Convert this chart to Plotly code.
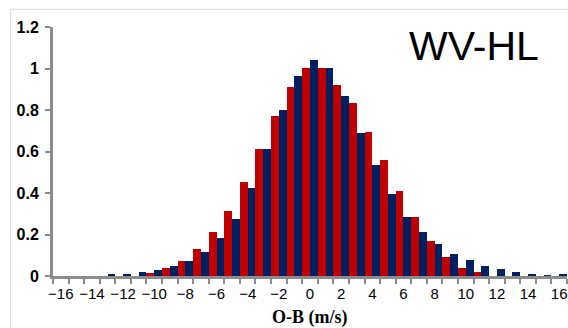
import plotly.graph_objects as go

categories = list(range(-16, 17))
red_values = [0, 0, 0, 0, 0, 0, 0.014, 0.037, 0.073, 0.128, 0.210, 0.313, 0.451, 0.614,
              0.773, 0.911, 1.001, 1.001, 0.922, 0.836, 0.693, 0.558, 0.409, 0.285, 0.167,
              0.091, 0.040, 0.019, 0, 0, 0, 0, 0]
navy_values = [0, 0, 0, 0.011, 0.011, 0.019, 0.030, 0.047, 0.073, 0.115, 0.184, 0.276, 0.425,
               0.610, 0.799, 0.966, 1.041, 1.001, 0.868, 0.690, 0.534, 0.395, 0.282, 0.210,
               0.152, 0.105, 0.076, 0.048, 0.033, 0.018, 0.011, 0.004, 0.011]
x_tick_values = list(range(-16, 17, 2))
y_tick_values = [0, 0.2, 0.4, 0.6, 0.8, 1.0, 1.2]
y_tick_labels = ["0", "0.2", "0.4", "0.6", "0.8", "1", "1.2"]

RED = "#C00000"
NAVY = "#002060"
AXIS = "#8C8C8C"

fig = go.Figure()
fig.add_trace(go.Bar(x=categories, y=red_values, marker=dict(color=RED, line=dict(width=0)), showlegend=False))
fig.add_trace(go.Bar(x=categories, y=navy_values, marker=dict(color=NAVY, line=dict(width=0)), showlegend=False))

fig.update_layout(
    width=568, height=328,
    margin=dict(l=53, r=1, t=27, b=52),
    paper_bgcolor="white", plot_bgcolor="white",
    barmode="group", bargap=0, bargroupgap=0,
    font=dict(family="Liberation Sans, Arial, sans-serif", color="black"),
)
fig.update_xaxes(
    range=[-16.5, 16.5], tickvals=x_tick_values, ticks="outside", ticklen=0,
    showline=True, linecolor=AXIS, linewidth=3, showgrid=False, zeroline=False,
    tickfont=dict(size=15, color="black"), ticklabelstandoff=2,
    minor=dict(tick0=-16.5, dtick=1, ticks="outside", ticklen=5, tickwidth=2, tickcolor=AXIS, showgrid=False),
)
fig.update_yaxes(
    range=[0, 1.2], tickvals=y_tick_values, ticktext=y_tick_labels,
    ticks="outside", ticklen=5, tickwidth=2, tickcolor=AXIS,
    showline=True, linecolor=AXIS, linewidth=3, showgrid=False, zeroline=False,
    tickfont=dict(size=16, color="black", weight="bold"), ticklabelstandoff=3,
)
fig.add_shape(type="rect", xref="paper", yref="paper", x0=-0.0824, x1=1.2, y0=-0.4, y1=1.071,
              line=dict(color="#D9D9D9", width=1), fillcolor="rgba(0,0,0,0)", layer="below")
fig.add_annotation(text="WV-HL", xref="paper", yref="paper", x=(474 - 53.3) / 513.4, y=(276 - 46) / 249.3,
                   xanchor="center", yanchor="middle", showarrow=False,
                   font=dict(size=41, color="black", family="Liberation Sans, Arial, sans-serif"))
fig.add_annotation(text="O-B (m/s)", xref="paper", yref="paper", x=0.5, y=(276 - 318) / 249.3,
                   xanchor="center", yanchor="middle", showarrow=False,
                   font=dict(size=18, color="black", family="Liberation Serif, Times New Roman, serif", weight="bold"))

fig.write_html("out.html")
